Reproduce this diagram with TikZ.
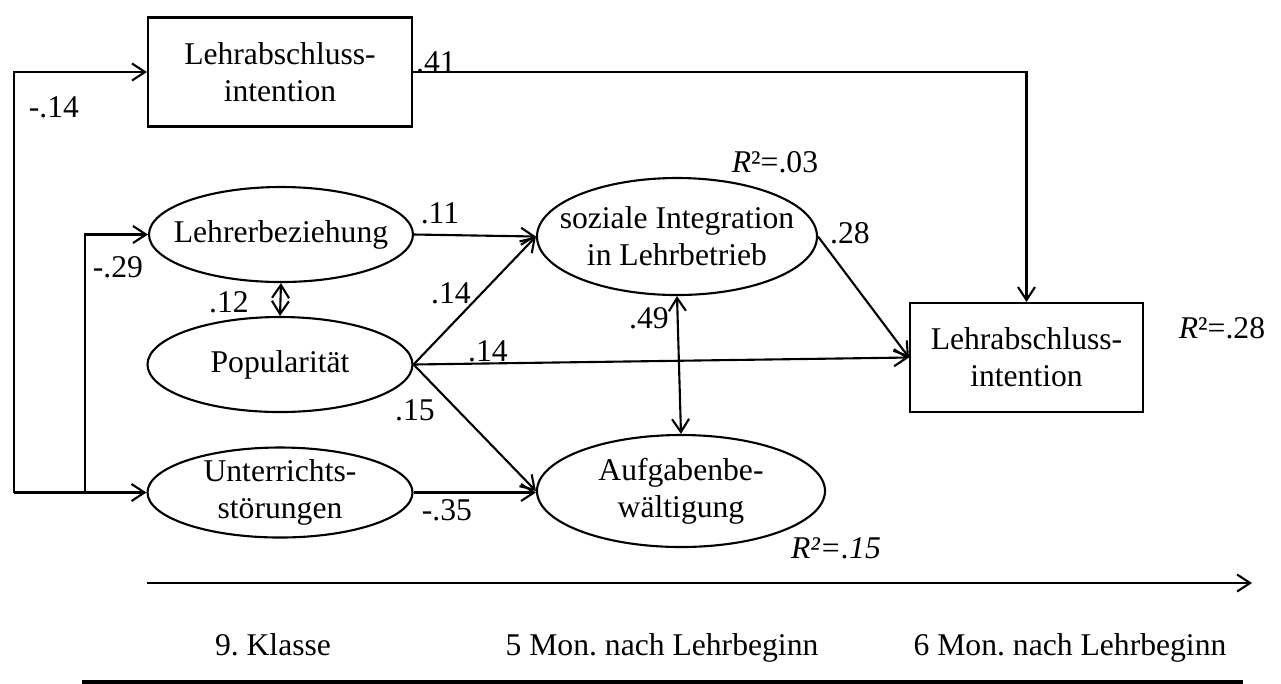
\documentclass[tikz,border=0pt]{standalone}
\usepackage{fontspec}
\setmainfont{Liberation Serif}
\usetikzlibrary{arrows.meta,shapes.geometric}
\frenchspacing

\begin{document}
\begin{tikzpicture}[line width=0.6pt, >={Straight Barb[length=1.3mm,width=1.7mm]},
                    font=\fontsize{9}{10.5}\selectfont]

            % Stile
            \tikzset{
                observed/.style={draw, rectangle, align=center, inner sep=0pt},
                latent/.style={draw, ellipse, inner sep=0pt},
                coef/.style={inner sep=1pt},
                timelabel/.style={anchor=base}
            }

            \useasboundingbox (0,0) rectangle (12.81,-6.83);

            % Manifeste Variablen
            \node[observed, minimum width=2.64cm, minimum height=1.09cm] (LAIa) at (2.80,-0.72) {Lehrabschluss-\\intention};
            \node[observed, minimum width=2.33cm, minimum height=1.09cm] (LAIb) at (10.265,-3.575) {Lehrabschluss-\\intention};

            % Latente Variablen
            \node[latent, minimum width=2.64cm, minimum height=0.95cm, label={center:Lehrerbeziehung}] (Lehrer) at (2.81,-2.345) {};
            \node[latent, minimum width=2.65cm, minimum height=0.95cm, label={center:Popularität}] (Pop) at (2.80,-3.645) {};
            \node[latent, minimum width=2.65cm, minimum height=0.90cm, label={[align=center]center:Unterrichts-\\störungen}] (Unt) at (2.80,-4.925) {};
            \node[latent, minimum width=2.80cm, minimum height=1.17cm, label={[align=center]center:soziale Integration\\in Lehrbetrieb}] (Soz) at (6.77,-2.365) {};
            \node[latent, minimum width=2.88cm, minimum height=1.12cm, label={[align=center]center:Aufgabenbe-\\wältigung}] (Auf) at (6.81,-4.91) {};

            % Pfade von links
            \coordinate (fork) at (0.14,-4.925);
            \coordinate (split) at (0.85,-4.925);
            \draw[->] (fork) -- (Unt.west);
            \draw[->] (split) |- (Lehrer.west);
            \draw[->] (fork) |- (LAIa.west);

            % Pfade zur Mitte
            \draw[->] (Lehrer.east) -- (Soz.west);
            \draw[->] (Pop.east) -- (Soz.west);
            \draw[->] (Pop.east) -- (Auf.west);
            \draw[->] (Unt.east) -- (Unt.east -| Auf.west);

            % Pfade nach rechts
            \draw[->] (Pop.east) -- (LAIb.west);
            \draw[->] (Soz.east) -- (LAIb.west);
            \draw[->] (LAIa.east) -| (LAIb.north);

            % Korrelationen
            \draw[<->] (Lehrer.south) -- (Pop.north);
            \draw[<->] (Soz.south) -- (Auf.north);

            % Koeffizienten
            \foreach \n/\x/\y/\t in {a/0.54/-1.07/-.14, b/1.18/-2.67/-.29, c/4.36/-0.62/.41,
                                     d/4.40/-2.13/.11, e/2.29/-3.02/.12, f/4.51/-2.93/.14,
                                     g/4.88/-3.51/.14, h/4.15/-4.10/.15, i/4.47/-5.10/-.35,
                                     j/8.50/-2.33/.28, k/6.49/-3.18/.49}
                \node[coef] (w\n) at (\x,\y) {\t};

            % Erklärte Varianz
            \node[coef] (Rsoz) at (7.75,-1.62) {\textit{R}²=.03};
            \node[coef] (Rlai) at (12.22,-3.28) {\textit{R}²=.28};
            \node[coef] (Rauf) at (8.36,-5.48) {\textit{R²=.15}};

            % Zeitachse
            \coordinate (t0) at (1.47,-5.83);
            \coordinate (t1) at (12.52,-5.83);
            \draw[->] (t0) -- (t1);
            \node[timelabel] (z1) at (2.73,-6.55) {9. Klasse};
            \node[timelabel] (z2) at (6.62,-6.55) {5 Mon. nach Lehrbeginn};
            \node[timelabel] (z3) at (10.70,-6.55) {6 Mon. nach Lehrbeginn};
            \coordinate (b0) at (0.82,-6.82);
            \coordinate (b1) at (12.43,-6.82);
            \draw[line width=1.3pt] (b0) -- (b1);
        \end{tikzpicture}
\end{document}
